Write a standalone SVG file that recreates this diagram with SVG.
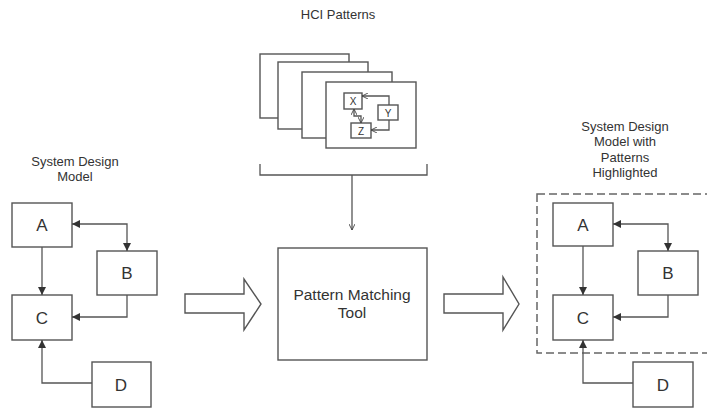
<svg xmlns="http://www.w3.org/2000/svg" width="707" height="408" viewBox="0 0 707 408">
<defs>
<style>
.box{fill:#fff;stroke:#555;stroke-width:1.4}
.ln{fill:none;stroke:#555;stroke-width:1.3}
.t{font-family:"Liberation Sans",Arial,sans-serif;fill:#333;text-anchor:middle}
.lt{font-size:13px}
.bt{font-size:17px}
.st{font-size:10px}
</style>
<marker id="ah" viewBox="0 0 10 10" refX="10" refY="5" markerWidth="10" markerHeight="8" markerUnits="userSpaceOnUse" orient="auto-start-reverse">
<path d="M0,0 L10,5 L0,10 Z" fill="#333"/>
</marker>
<marker id="oa" viewBox="0 0 10 10" refX="10" refY="5" markerWidth="6" markerHeight="6" markerUnits="userSpaceOnUse" orient="auto-start-reverse">
<path d="M0,0 L10,5 L0,10" fill="none" stroke="#444" stroke-width="1.5"/>
</marker>
</defs>
<rect width="707" height="408" fill="#fff"/>

<text class="t lt" x="338" y="19">HCI Patterns</text>

<g id="patterns">
<rect class="box" x="260" y="54" width="89" height="64"/>
<rect class="box" x="278" y="62" width="90" height="67"/>
<rect class="box" x="302" y="72" width="90" height="66"/>
<rect class="box" x="326" y="82" width="90" height="66"/>
<g id="px"><rect class="box" x="344" y="93" width="18" height="16"/><text class="t st" x="353" y="105">X</text></g>
<g id="py"><rect class="box" x="378" y="105" width="20" height="15"/><text class="t st" x="388" y="117">Y</text></g>
<g id="pz"><rect class="box" x="351" y="123" width="20" height="15"/><text class="t st" x="361" y="135">Z</text></g>
</g>

<g id="tool">
<rect class="box" x="278" y="248" width="149" height="112"/>
<text class="t" font-size="15.5" x="352" y="300">Pattern Matching</text>
<text class="t" font-size="15.5" x="352" y="318">Tool</text>
</g>

<g id="left-title"><text class="t lt" x="75" y="166">System Design</text><text class="t lt" x="75" y="181">Model</text></g>
<g id="la"><rect class="box" x="12" y="203" width="60" height="44"/><text class="t bt" x="42" y="231">A</text></g>
<g id="lb"><rect class="box" x="97" y="251" width="60" height="44"/><text class="t bt" x="127" y="279">B</text></g>
<g id="lc"><rect class="box" x="12" y="295" width="60" height="45"/><text class="t bt" x="42" y="324">C</text></g>
<g id="ld"><rect class="box" x="92" y="362" width="59" height="45"/><text class="t bt" x="121" y="391">D</text></g>

<g id="right-title"><text class="t lt" x="625" y="131">System Design</text><text class="t lt" x="625" y="146">Model with</text><text class="t lt" x="625" y="162">Patterns</text><text class="t lt" x="625" y="177">Highlighted</text></g>
<rect id="highlight" x="537" y="194" width="175" height="159" fill="none" stroke="#666" stroke-width="1.5" stroke-dasharray="8,4"/>
<g id="ra"><rect class="box" x="553" y="203" width="60" height="43"/><text class="t bt" x="583" y="231">A</text></g>
<g id="rb"><rect class="box" x="638" y="251" width="60" height="44"/><text class="t bt" x="668" y="279">B</text></g>
<g id="rc"><rect class="box" x="553" y="295" width="60" height="45"/><text class="t bt" x="583" y="324">C</text></g>
<g id="rd"><rect class="box" x="633" y="362" width="60" height="45"/><text class="t bt" x="663" y="391">D</text></g>

<g id="connectors">
<path class="ln" d="M389,105 V96 H362" marker-end="url(#oa)"/>
<path class="ln" d="M389,120 V130 H371" marker-end="url(#oa)"/>
<path class="ln" d="M354,109 V116 H361 V123" marker-start="url(#oa)" marker-end="url(#oa)"/>
<path class="ln" d="M260,164 V175 H427 V164"/>
<path class="ln" d="M352,175 V230" marker-end="url(#oa)"/>

<path class="ln" d="M42,247 V295" marker-end="url(#ah)"/>
<path class="ln" d="M72,224 H127 V251" marker-start="url(#ah)" marker-end="url(#ah)"/>
<path class="ln" d="M127,295 V317 H72" marker-end="url(#ah)"/>
<path class="ln" d="M92,383 H42 V340" marker-end="url(#ah)"/>

<path class="ln" d="M583,246 V295" marker-end="url(#ah)"/>
<path class="ln" d="M613,224 H668 V251" marker-start="url(#ah)" marker-end="url(#ah)"/>
<path class="ln" d="M668,295 V317 H613" marker-end="url(#ah)"/>
<path class="ln" d="M633,383 H583 V340" marker-end="url(#ah)"/>

<path class="box" d="M185,294 H244 V279 L261,304 L244,330 V313 H185 Z"/>
<path class="box" d="M444,294 H503 V277 L519,304 L503,330 V313 H444 Z"/>
</g>
</svg>
